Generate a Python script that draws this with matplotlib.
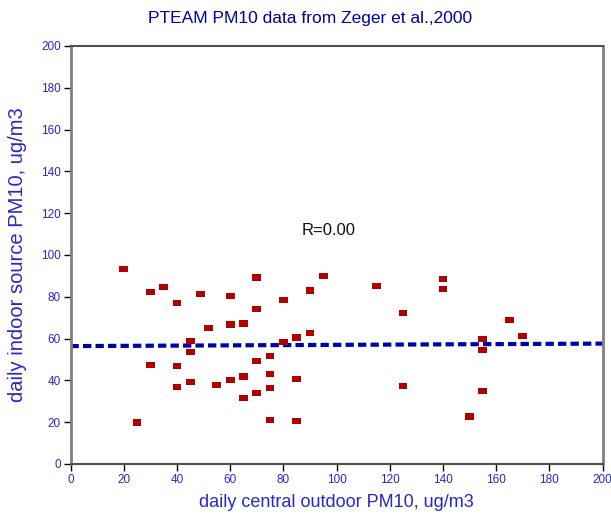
import numpy as np
import matplotlib
matplotlib.use("Agg")
import matplotlib.pyplot as plt

plt.rcParams['font.family'] = ['Liberation Sans', 'DejaVu Sans']

# outdoor (x) vs indoor-source (y) PM10
outdoor = [20, 25, 30, 30, 35, 40, 40, 40, 45, 45, 45, 49, 52, 55,
           60, 60, 60, 65, 65, 65, 70, 70, 70, 70, 75, 75, 75, 75,
           80, 80, 85, 85, 85, 90, 90, 95, 115, 125, 125, 140, 140,
           150, 155, 155, 155, 165, 170]
indoor = [93.2, 19.8, 82.3, 47.4, 84.6, 76.9, 46.9, 36.9, 58.8, 53.6, 39.1, 81.4, 65.0, 37.8,
          80.3, 66.7, 40.1, 67.2, 41.8, 31.6, 89.2, 74.1, 49.2, 34.0, 51.6, 43.0, 36.3, 21.1,
          78.5, 58.4, 60.5, 40.7, 20.5, 83.0, 62.7, 89.9, 85.2, 72.3, 37.4, 88.6, 83.6,
          22.7, 59.9, 54.7, 35.0, 68.9, 61.1]

# regression line end points
fit_x = [0, 200]
fit_y = [56.4, 57.6]

xticks = np.arange(0, 201, 20)
yticks = np.arange(0, 201, 20)

fig = plt.figure(figsize=(6.11, 5.19), dpi=100)
ax = fig.add_axes([0.1154, 0.106, 0.8707, 0.8054])

ax.plot(fit_x, fit_y, color='#0000aa', lw=3, ls=(0, (2, 1)), zorder=2)

rect = [(-1, -0.72), (1, -0.72), (1, 0.72), (-1, 0.72), (-1, -0.72)]
ax.scatter(outdoor, indoor, marker=rect, s=40, color='#b00000',
           edgecolors='none', zorder=3)

ax.text(97, 111.5, 'R=0.00', ha='center', va='center', fontsize=12, color='#111111')

ax.set_xlim(0, 200)
ax.set_ylim(0, 200)
ax.set_xticks(xticks)
ax.set_yticks(yticks)
ax.tick_params(axis='both', direction='out', length=5, width=1, color='black',
               labelcolor='#2828c8', labelsize=8.5, pad=2)
for side in ['left', 'right']:
    ax.spines[side].set_color('#808080')
    ax.spines[side].set_linewidth(2)
for side in ['top', 'bottom']:
    ax.spines[side].set_color('#505050')
    ax.spines[side].set_linewidth(1.5)

ax.set_xlabel('daily central outdoor PM10, ug/m3', color='#2828c8', fontsize=13, labelpad=6)
ax.set_ylabel('daily indoor source PM10, ug/m3', color='#2828c8', fontsize=14.5, labelpad=10)

fig.text(310 / 611, 1 - 18 / 519, 'PTEAM PM10 data from Zeger et al.,2000',
         ha='center', va='center', fontsize=12.5, color='#0000a0')

fig.savefig('out.png', dpi=100)
